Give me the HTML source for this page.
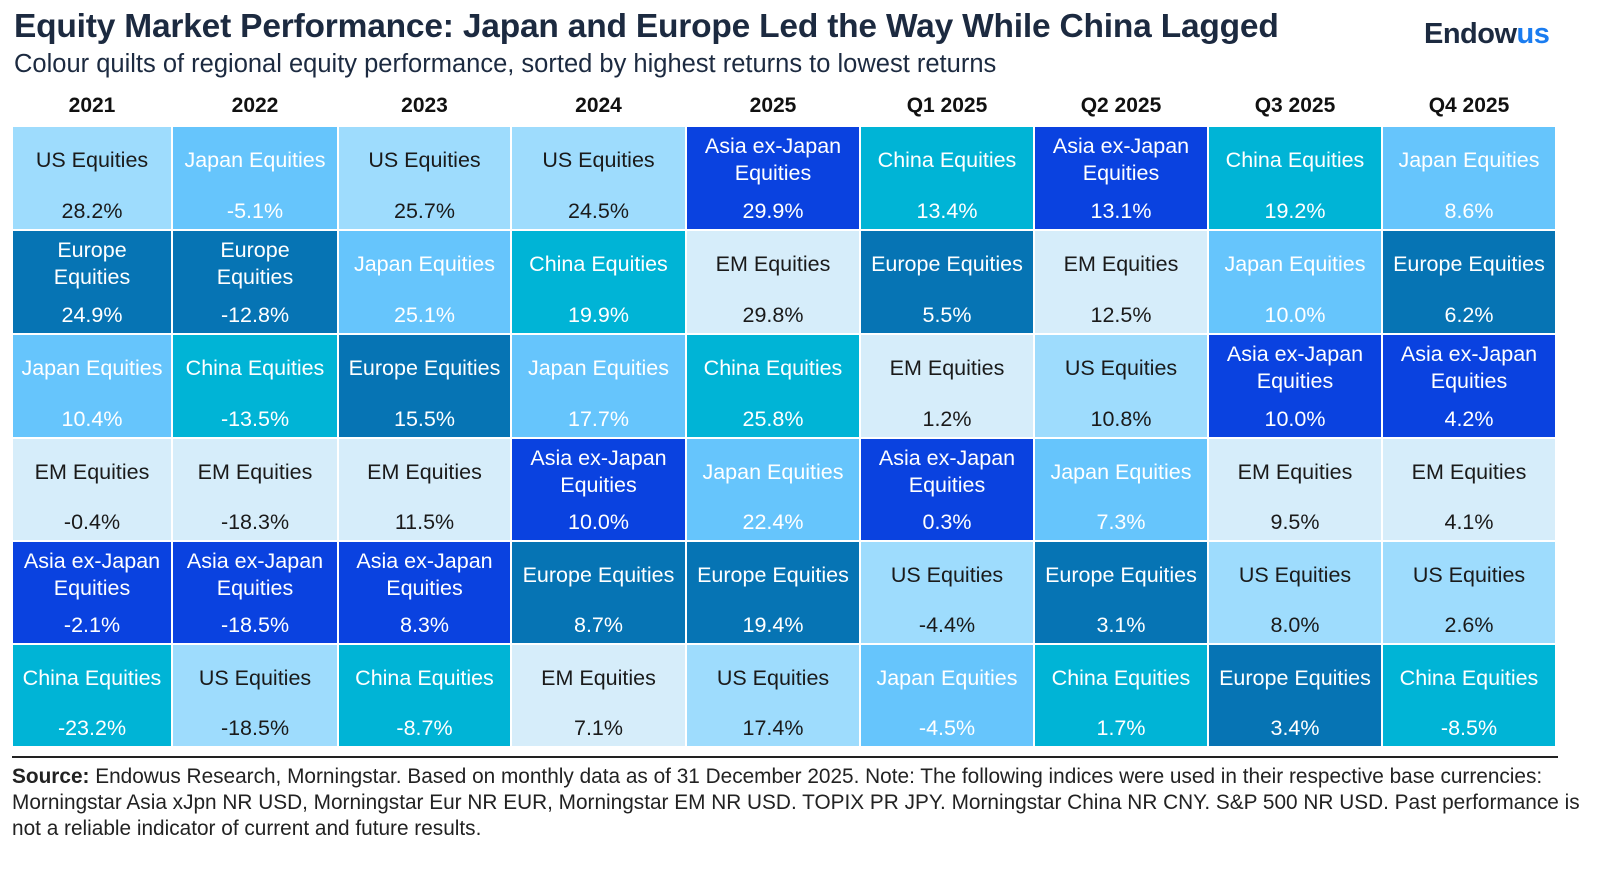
<!DOCTYPE html>
<html><head><meta charset="utf-8">
<style>
body{margin:0;width:1600px;height:871px;background:#fff;font-family:"Liberation Sans",sans-serif;overflow:hidden;position:relative}
#title{position:absolute;left:14px;top:8px;font-size:33.5px;font-weight:bold;color:#1c2a40;letter-spacing:-0.2px}
#sub{position:absolute;left:14px;top:50px;font-size:25.5px;color:#1c2a40}
#logo{position:absolute;left:1424px;top:18px;font-size:29px;font-weight:bold;color:#1c2a40;letter-spacing:-0.5px}
#logo span{color:#1a7cf0}
.hdr{position:absolute;top:94px;font-size:21px;font-weight:bold;color:#111;text-align:center}
.cell{position:absolute;box-sizing:border-box;border:1px solid #fff;text-align:center;font-size:21.5px}
.nm{position:absolute;left:0;right:0;line-height:27px}
.pc{position:absolute;left:0;right:0;line-height:24px}
#rule{position:absolute;left:12px;top:756px;width:1546px;height:2px;background:#222}
#foot{position:absolute;left:12px;top:764px;width:1580px;font-size:20.8px;line-height:26px;color:#222;white-space:nowrap}
</style></head><body>
<div id="title">Equity Market Performance: Japan and Europe Led the Way While China Lagged</div>
<div id="sub">Colour quilts of regional equity performance, sorted by highest returns to lowest returns</div>
<div id="logo">Endow<span>us</span></div>
<div id="grid"></div>
<div id="rule"></div>
<div id="foot"><b>Source:</b> Endowus Research, Morningstar. Based on monthly data as of 31 December 2025. Note: The following indices were used in their respective base currencies:<br>Morningstar Asia xJpn NR USD, Morningstar Eur NR EUR, Morningstar EM NR USD. TOPIX PR JPY. Morningstar China NR CNY. S&amp;P 500 NR USD. Past performance is<br>not a reliable indicator of current and future results.</div>
<script>
const periods=["2021","2022","2023","2024","2025","Q1 2025","Q2 2025","Q3 2025","Q4 2025"];
const regionsByPeriod=[
["US","Europe","Japan","EM","Asia","China"],
["Japan","Europe","China","EM","Asia","US"],
["US","Japan","Europe","EM","Asia","China"],
["US","China","Japan","Asia","Europe","EM"],
["Asia","EM","China","Japan","Europe","US"],
["China","Europe","EM","Asia","US","Japan"],
["Asia","EM","US","Japan","Europe","China"],
["China","Japan","Asia","EM","US","Europe"],
["Japan","Europe","Asia","EM","US","China"]];
const returnsByPeriod=[
[28.2,24.9,10.4,-0.4,-2.1,-23.2],
[-5.1,-12.8,-13.5,-18.3,-18.5,-18.5],
[25.7,25.1,15.5,11.5,8.3,-8.7],
[24.5,19.9,17.7,10.0,8.7,7.1],
[29.9,29.8,25.8,22.4,19.4,17.4],
[13.4,5.5,1.2,0.3,-4.4,-4.5],
[13.1,12.5,10.8,7.3,3.1,1.7],
[19.2,10.0,10.0,9.5,8.0,3.4],
[8.6,6.2,4.2,4.1,2.6,-8.5]];
const style={
US:{bg:"#9edcfd",fg:"#1a1a1a",n:"US Equities"},
Japan:{bg:"#66c5fc",fg:"#fff",n:"Japan Equities"},
Europe:{bg:"#0674b4",fg:"#fff",n:"Europe Equities"},
China:{bg:"#00b4d6",fg:"#fff",n:"China Equities"},
EM:{bg:"#d6edfa",fg:"#1a1a1a",n:"EM Equities"},
Asia:{bg:"#0a42e0",fg:"#fff",n:"Asia ex-Japan"}};
const colX=[12,172,338,511,686,860,1034,1208,1382,1556];
const rowY=[126,230,334,438,541,644,747];
const g=document.getElementById('grid');
periods.forEach((p,c)=>{
  const h=document.createElement('div');h.className='hdr';
  
  
  h.style.left=colX[c]+'px';h.style.width=(colX[c+1]-colX[c])+'px';h.textContent=p;g.appendChild(h);
  regionsByPeriod[c].forEach((r,i)=>{
    const s=style[r];const d=document.createElement('div');d.className='cell';
    
    
    const w=colX[c+1]-colX[c],hh=rowY[i+1]-rowY[i];
    Object.assign(d.style,{left:colX[c]+'px',top:rowY[i]+'px',width:w+'px',height:hh+'px',background:s.bg,color:s.fg});
    const nm=document.createElement('div');nm.className='nm';
    if(r==='Asia'){nm.style.top='6px';nm.innerHTML='Asia ex-Japan<br>Equities';}
    else if(r==='Europe'&&w<172){nm.style.top='6px';nm.innerHTML='Europe<br>Equities';}
    else{nm.style.top='20px';nm.textContent=s.n;}
    d.appendChild(nm);
    const pc=document.createElement('div');pc.className='pc';pc.style.top=(hh-32)+'px';
    pc.textContent=returnsByPeriod[c][i].toFixed(1)+'%';d.appendChild(pc);
    g.appendChild(d);
  });
});
</script>
</body></html>
